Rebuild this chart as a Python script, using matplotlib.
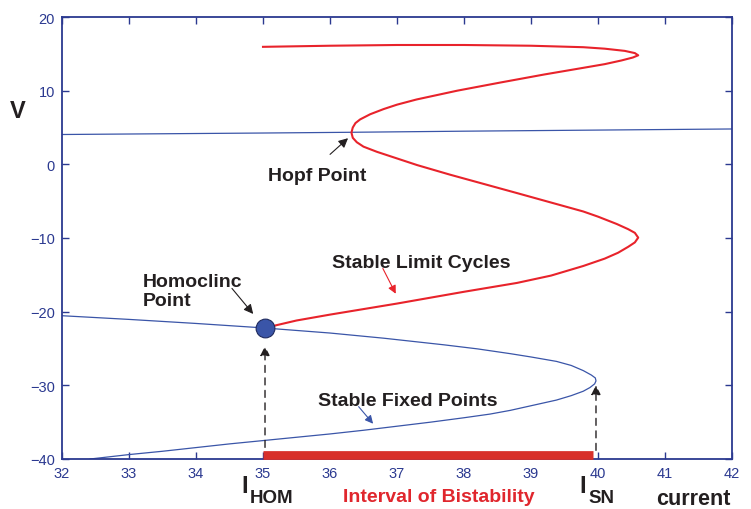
import matplotlib
matplotlib.use('Agg')
import matplotlib.pyplot as plt

# limit cycle branch (red), from homoclinic point up through the two folds
cycle_I = [35.03, 35.5, 36.0, 37.0, 38.0, 38.79, 39.3, 39.78, 40.1, 40.3, 40.45, 40.55, 40.6,
           40.55, 40.45, 40.28, 40.0, 39.78, 38.79, 37.79, 37.3, 37.0, 36.7, 36.5, 36.4, 36.34,
           36.32, 36.34, 36.38, 36.45, 36.6, 36.8, 37.0, 37.29, 37.9, 38.54, 39.2, 39.78, 40.1,
           40.35, 40.52, 40.6, 40.55, 40.4, 40.1, 39.78, 39.0, 38.0, 37.0, 36.0, 35.0]
cycle_V = [-22.2, -21.2, -20.4, -18.9, -17.3, -16.1, -15.1, -13.8, -12.8, -12.0, -11.2, -10.6, -9.95,
           -9.3, -8.8, -8.1, -7.1, -6.4, -3.9, -1.4, -0.1, 0.8, 1.7, 2.4, 3.0, 3.6,
           4.3, 5.0, 5.6, 6.1, 6.8, 7.5, 8.1, 8.8, 10.0, 11.1, 12.2, 13.1, 13.6,
           14.1, 14.5, 14.8, 15.1, 15.4, 15.7, 15.9, 16.1, 16.2, 16.2, 16.1, 15.95]

# fixed points (blue): middle + lower branch through the saddle-node
fixed_I = [32.0, 33.0, 34.0, 35.0, 36.0, 36.8, 37.7, 38.2, 38.69, 39.0, 39.38, 39.6, 39.78, 39.9,
           39.96, 39.97, 39.95, 39.88, 39.78, 39.6, 39.38, 38.69, 38.39, 38.0, 37.5, 37.0, 36.5,
           36.0, 35.5, 35.0, 34.5, 34.0, 33.5, 33.0, 32.42]
fixed_V = [-20.55, -21.05, -21.6, -22.2, -22.9, -23.6, -24.5, -25.05, -25.7, -26.15, -26.75, -27.3, -28.0, -28.6,
           -29.0, -29.4, -29.8, -30.3, -30.8, -31.4, -32.0, -33.4, -33.9, -34.4, -35.0, -35.55, -36.1,
           -36.6, -37.05, -37.5, -37.95, -38.45, -38.95, -39.4, -40.0]

# upper (unstable) fixed point branch
upper_I = [32.0, 35.0, 36.3, 38.0, 40.0, 42.0]
upper_V = [4.05, 4.25, 4.35, 4.5, 4.65, 4.8]

I_hom, V_hom = 35.03, -22.2
I_sn, V_sn = 39.97, -29.4
bistable = [35.0, 39.93]

axis_blue = '#2b3990'
line_blue = '#3a55a8'
red = '#e8232b'
ink = '#231f20'
W, H = 751, 510


def px(x, y):
    return x / W, 1 - y / H


fig = plt.figure(figsize=(7.51, 5.10), dpi=100)
ax = fig.add_axes([62 / W, 1 - 460 / H, 670 / W, 442 / H])

ax.plot(upper_I, upper_V, color=line_blue, lw=0.9)
ax.plot(fixed_I, fixed_V, color=line_blue, lw=0.9)
ax.plot(cycle_I, cycle_V, color=red, lw=1.5)
ax.plot([I_hom], [V_hom], 'o', ms=13.5, mfc='#3a55a8', mec='#1f2a5e', mew=0.8, zorder=5)
ax.plot(bistable, [-39.45, -39.45], color='#d8302a', lw=6.3, solid_capstyle='butt',
        clip_on=False, zorder=4)

# dashed arrows up from the interval
dash = dict(arrowstyle='-|>', color=ink, lw=1.0, ls=(0, (5, 4)), mutation_scale=14)
ax.annotate('', xy=(I_hom, -24.3), xytext=(I_hom, -38.8), arrowprops=dash)
ax.annotate('', xy=(I_sn, -29.6), xytext=(I_sn, -39.2), arrowprops=dash)

# annotation arrows
ax.annotate('', xy=(36.3, 3.8), xytext=(35.97, 1.1),
            arrowprops=dict(arrowstyle='-|>', color=ink, lw=0.8, mutation_scale=14))
ax.annotate('', xy=(34.88, -20.6), xytext=(34.51, -16.55),
            arrowprops=dict(arrowstyle='-|>', color=ink, lw=0.8, mutation_scale=14))
ax.annotate('', xy=(37.0, -17.9), xytext=(36.77, -13.8),
            arrowprops=dict(arrowstyle='-|>', color=red, lw=0.8, mutation_scale=12))
ax.annotate('', xy=(36.67, -35.5), xytext=(36.4, -32.6),
            arrowprops=dict(arrowstyle='-|>', color=line_blue, lw=0.8, mutation_scale=12))

ax.set_xlim(32, 42)
ax.set_ylim(-40, 20)
ax.set_xticks(range(32, 43))
ax.set_yticks(range(-40, 21, 10))
ax.set_yticklabels(['\u221240', '\u221230', '\u221220', '\u221210', '0', '10', '20'])
ax.tick_params(direction='in', top=True, right=True, length=5, width=1.0,
               colors=axis_blue, labelsize=10.5, pad=5)
for lab in ax.get_xticklabels() + ax.get_yticklabels():
    lab.set_family('Liberation Sans')
for s in ax.spines.values():
    s.set_color(axis_blue)
    s.set_linewidth(1.3)

bold = dict(family='Liberation Sans', weight='bold', color=ink, va='baseline')
fig.text(*px(10, 118), 'V', fontsize=17, **bold)
fig.text(*px(268, 181), 'Hopf Point', fontsize=14, **bold)
fig.text(*px(143, 287), 'Homoclinc', fontsize=14, **bold)
fig.text(*px(143, 306), 'Point', fontsize=14, **bold)
fig.text(*px(332, 268), 'Stable Limit Cycles', fontsize=14, **bold)
fig.text(*px(318, 406), 'Stable Fixed Points', fontsize=14, **bold)
fig.text(*px(241, 493), 'I', fontsize=17, **bold)
fig.text(*px(250, 503), 'HOM', fontsize=13.5, **bold)
fig.text(*px(579, 493), 'I', fontsize=17, **bold)
fig.text(*px(588, 503), 'SN', fontsize=13.5, **bold)
fig.text(*px(343, 502), 'Interval of Bistability', fontsize=14,
         family='Liberation Sans', weight='bold', color='#e0262d', va='baseline')
fig.text(*px(656, 505), 'current', fontsize=15.5, **bold)

fig.savefig('out.png', dpi=100)
